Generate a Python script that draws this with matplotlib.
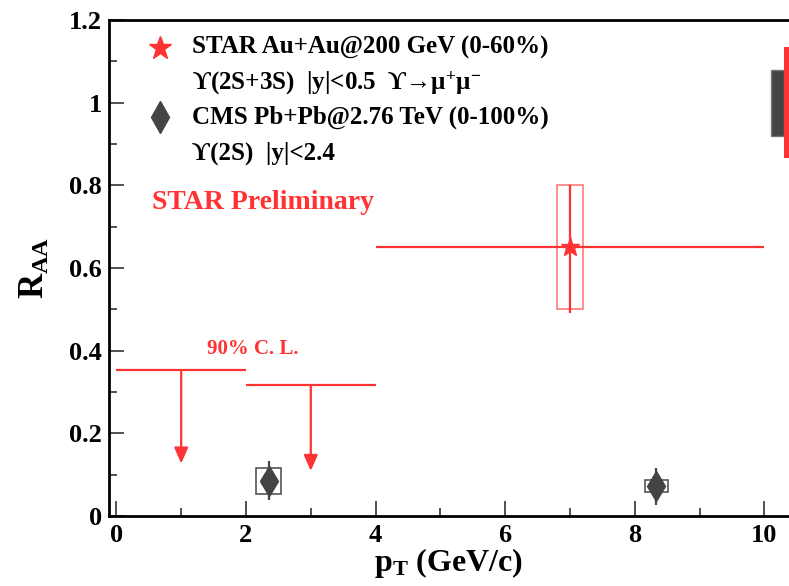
import matplotlib
matplotlib.use("Agg")
import matplotlib.pyplot as plt
from matplotlib.patches import Rectangle

plt.rcParams['font.family'] = ['Liberation Serif', 'DejaVu Serif']
plt.rcParams['font.weight'] = 'bold'
plt.rcParams['mathtext.fontset'] = 'custom'
plt.rcParams['mathtext.rm'] = 'Liberation Serif:bold'
plt.rcParams['mathtext.it'] = 'Liberation Serif:bold'
plt.rcParams['mathtext.bf'] = 'Liberation Serif:bold'

RED = '#ff3333'
GREY = '#444444'

# STAR Upsilon(2S+3S) RAA
star_pt = [7.0]
star_pt_lo = [4.0]
star_pt_hi = [10.0]
star_raa = [0.65]
star_stat_lo = [0.16]
star_stat_hi = [0.15]
star_sys = [0.15]

# STAR 90% C.L. upper limits
ul_pt = [1.0, 3.0]
ul_pt_lo = [0.0, 2.0]
ul_pt_hi = [2.0, 4.0]
ul_val = [0.353, 0.316]
ul_tip = [0.127, 0.109]

# CMS Upsilon(2S) RAA
cms_pt = [2.35, 8.33]
cms_raa = [0.085, 0.072]
cms_stat = [0.047, 0.045]
cms_sys = [0.032, 0.015]
cms_box_w = [0.19, 0.18]

# global uncertainties around unity
cms_glob = 0.08
star_glob = 0.135

fig = plt.figure(figsize=(7.89, 5.86), dpi=100)
ax = fig.add_axes([0.138, 0.1195, 0.862, 0.8465])
ax.set_xlim(-0.116, 10.38)
ax.set_ylim(0, 1.2)

# systematic boxes
for x, y, s in zip(star_pt, star_raa, star_sys):
    ax.add_patch(Rectangle((x - 0.2, y - s), 0.4, 2 * s, fill=False,
                           edgecolor='#ff7a7a', lw=1.2, zorder=2))
for x, y, s, w in zip(cms_pt, cms_raa, cms_sys, cms_box_w):
    ax.add_patch(Rectangle((x - w, y - s), 2 * w, 2 * s, fill=False,
                           edgecolor='#555555', lw=1.2, zorder=2))

# STAR point
xerr = [[x - l for x, l in zip(star_pt, star_pt_lo)],
        [h - x for x, h in zip(star_pt, star_pt_hi)]]
ax.errorbar(star_pt, star_raa, xerr=xerr, yerr=[star_stat_lo, star_stat_hi],
            fmt='*', color=RED, ms=14, elinewidth=1.6, capsize=0, zorder=4)

# CMS points
ax.errorbar(cms_pt, cms_raa, yerr=cms_stat, fmt='d', color=GREY, ms=15,
            elinewidth=1.6, capsize=0, zorder=4)

# upper limits
ax.hlines(ul_val, ul_pt_lo, ul_pt_hi, color=RED, lw=1.6, zorder=3)
for x, u, t in zip(ul_pt, ul_val, ul_tip):
    ax.annotate('', xy=(x, t), xytext=(x, u),
                arrowprops=dict(arrowstyle='-|>,head_length=0.95,head_width=0.42',
                                color=RED, lw=1.6, mutation_scale=10,
                                shrinkA=0, shrinkB=0), zorder=3)
ax.text(2.1, 0.405, '90% C. L.', color=RED, fontsize=15, fontweight='bold',
        ha='center', va='center')

# global uncertainty bands
ax.add_patch(Rectangle((10.1, 1 - cms_glob), 0.21, 2 * cms_glob,
                       facecolor=GREY, edgecolor='#777777', lw=1, zorder=2,
                       clip_on=True))
ax.add_patch(Rectangle((10.31, 1 - star_glob), 0.2, 2 * star_glob,
                       facecolor=RED, edgecolor='none', zorder=2, clip_on=True))

# legend
ax.plot([0.075], [0.944], '*', color=RED, ms=17, transform=ax.transAxes)
ax.plot([0.075], [0.804], 'd', color=GREY, ms=16, transform=ax.transAxes)
leg_fs = 18
ax.text(0.122, 0.944, 'STAR Au+Au@200 GeV (0-60%)', fontsize=leg_fs,
        transform=ax.transAxes, va='center')
ax.text(0.122, 0.873, r'ϒ(2S+3S)  |y|<0.5  ϒ→μ$^{+}$μ$^{-}$', fontsize=leg_fs,
        transform=ax.transAxes, va='center')
ax.text(0.122, 0.804, 'CMS Pb+Pb@2.76 TeV (0-100%)', fontsize=leg_fs,
        transform=ax.transAxes, va='center')
ax.text(0.122, 0.732, 'ϒ(2S)  |y|<2.4', fontsize=leg_fs,
        transform=ax.transAxes, va='center')

ax.text(0.063, 0.631, 'STAR Preliminary', color=RED, fontsize=20,
        transform=ax.transAxes, va='center')

# axes styling
ax.spines['right'].set_visible(False)
for s in ['left', 'bottom', 'top']:
    ax.spines[s].set_linewidth(2)
ax.set_xticks(range(0, 11, 2))
ax.set_xticks(range(1, 11, 2), minor=True)
ax.set_yticks([0, 0.2, 0.4, 0.6, 0.8, 1.0, 1.2])
ax.set_yticklabels(['0', '0.2', '0.4', '0.6', '0.8', '1', '1.2'])
ax.set_yticks([0.1, 0.3, 0.5, 0.7, 0.9, 1.1], minor=True)
ax.tick_params(which='both', direction='in', color='#333333', width=1.2,
               labelsize=19, right=False, top=False)
ax.tick_params(which='major', length=11)
ax.tick_params(which='minor', length=6)
ax.tick_params(axis='x', pad=6)
ax.tick_params(axis='y', pad=5)

ax.set_ylabel(r'R$_{\mathrm{AA}}$', fontsize=25, fontweight='bold', labelpad=12)
ax.set_xlabel(r'p$_{\mathrm{T}}$ (GeV/c)', fontsize=23, fontweight='bold',
              labelpad=-1)

fig.savefig('out.png', dpi=100)
